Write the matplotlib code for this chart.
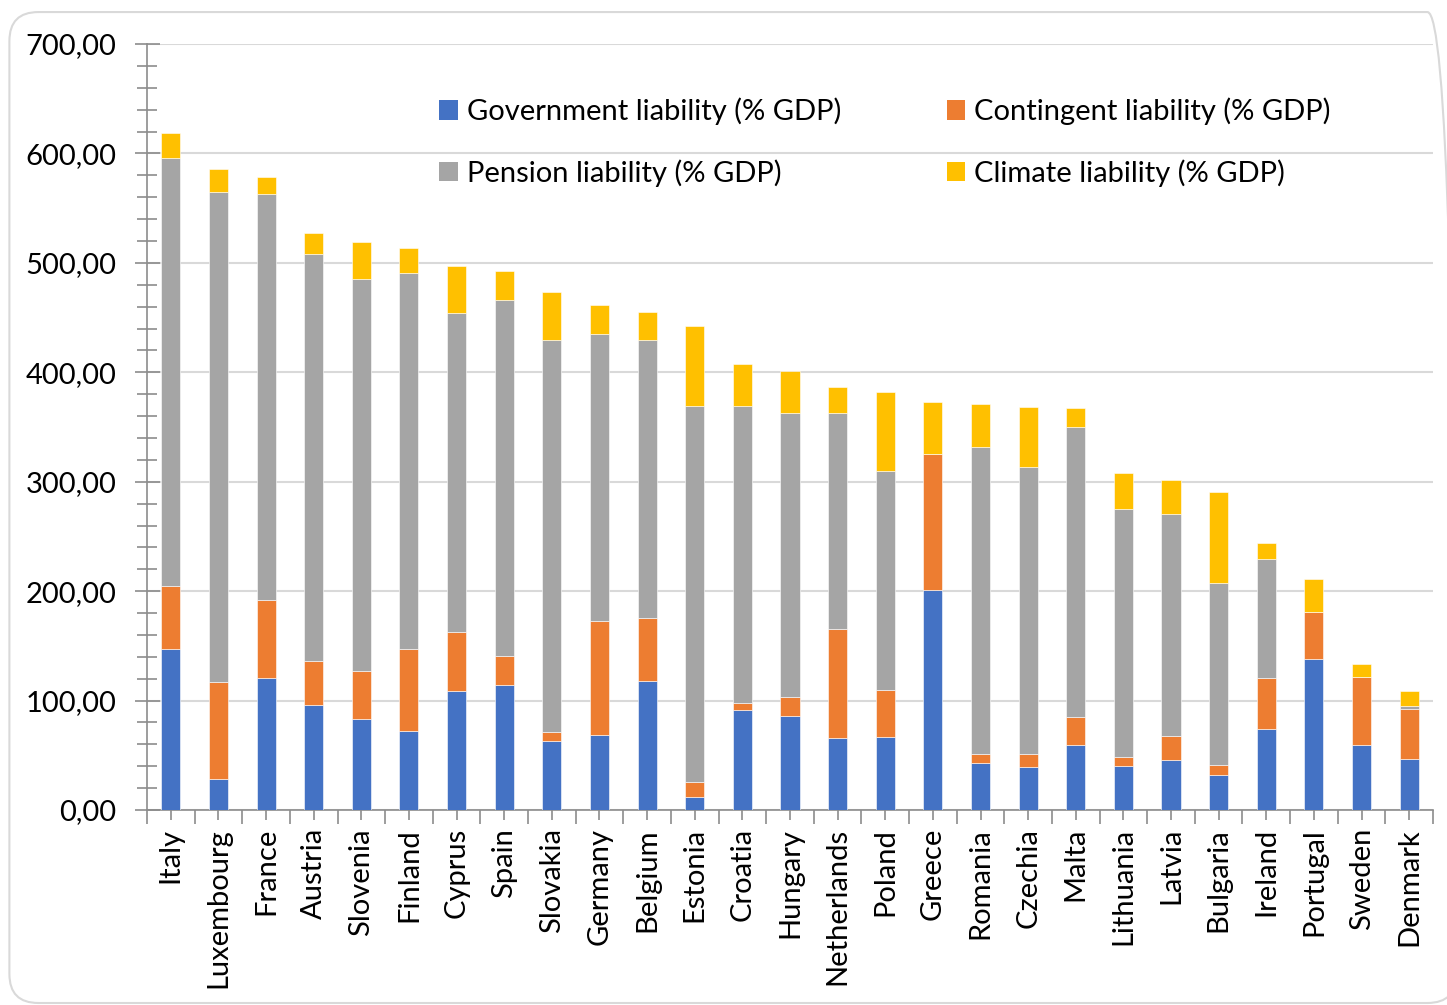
import matplotlib.pyplot as plt
import numpy as np
from matplotlib.patches import FancyBboxPatch, Patch
from matplotlib.ticker import FuncFormatter, MultipleLocator

plt.rcParams["font.family"] = ["Lato", "DejaVu Sans"]

countries = ["Italy", "Luxembourg", "France", "Austria", "Slovenia", "Finland", "Cyprus",
             "Spain", "Slovakia", "Germany", "Belgium", "Estonia", "Croatia", "Hungary",
             "Netherlands", "Poland", "Greece", "Romania", "Czechia", "Malta", "Lithuania",
             "Latvia", "Bulgaria", "Ireland", "Portugal", "Sweden", "Denmark"]

government = [147.6, 28.5, 120.7, 96.2, 83.2, 72.2, 108.8, 114.1, 63.2, 68.5, 118.0, 12.0,
              91.4, 85.9, 65.5, 66.4, 200.7, 42.9, 39.6, 59.4, 40.5, 46.0, 31.7, 74.3,
              137.6, 59.4, 46.9]
contingent = [57.0, 88.1, 71.3, 40.0, 44.0, 75.4, 53.5, 27.0, 8.1, 103.9, 57.7, 13.9,
              6.8, 17.6, 100.0, 42.9, 124.5, 8.4, 11.8, 25.5, 8.2, 21.3, 9.4, 45.9,
              43.5, 62.1, 45.0]
pension = [391.0, 448.0, 370.6, 371.7, 357.9, 342.8, 291.8, 325.3, 358.0, 263.0, 254.2,
           343.5, 271.2, 259.1, 197.4, 200.1, 0.0, 280.4, 262.1, 265.2, 226.2, 203.3,
           166.5, 109.6, 0.0, 0.0, 2.8]
climate = [23.2, 20.8, 16.3, 19.6, 34.3, 23.2, 42.8, 26.1, 44.4, 26.5, 25.6, 73.2, 38.3,
           38.9, 24.1, 72.9, 47.3, 39.5, 54.5, 17.0, 33.5, 31.1, 82.8, 14.0, 30.2, 11.5, 14.0]

series = [
    ("Government liability (% GDP)", government, "#4472C4"),
    ("Contingent liability (% GDP)", contingent, "#ED7D31"),
    ("Pension liability (% GDP)", pension, "#A5A5A5"),
    ("Climate liability (% GDP)", climate, "#FFC000"),
]

fig = plt.figure(figsize=(14.47, 10.05), dpi=100)
ax = fig.add_axes([0.1016, 0.194, 0.8887, 0.7622])

# rounded frame around the whole chart (runs off the right edge)
frame = FancyBboxPatch((0.0065, 0.002), 1.0, 0.986, boxstyle="round,pad=0,rounding_size=0.02",
                       transform=fig.transFigure, facecolor="none", edgecolor="#D9D9D9",
                       linewidth=1.5, mutation_aspect=1.44)
fig.patches.append(frame)

x = np.arange(len(countries))
bottom = np.zeros(len(countries))
for name, vals, color in series:
    vals = np.array(vals)
    ax.bar(x, vals, width=0.4, bottom=bottom, color=color, edgecolor="#FFFFFF",
           linewidth=0.4, label=name, zorder=3)
    bottom += vals

ax.set_xlim(-0.5, len(countries) - 0.5)
ax.set_ylim(0, 700)
ax.yaxis.set_major_locator(MultipleLocator(100))
ax.yaxis.set_minor_locator(MultipleLocator(20))
ax.yaxis.set_major_formatter(FuncFormatter(lambda v, p: f"{v:.2f}".replace(".", ",")))
ax.grid(axis="y", which="major", color="#D9D9D9", linewidth=1.5, zorder=0)

ax.set_xticks(x)
ax.set_xticklabels(countries, rotation=90, fontsize=21)
ax.set_xticks(np.arange(len(countries) + 1) - 0.5, minor=True)
ax.tick_params(axis="x", which="major", direction="inout", length=14, width=1.2,
               color="#8C8C8C", pad=6)
ax.tick_params(axis="x", which="minor", direction="out", length=10, width=1.2, color="#8C8C8C")
ax.tick_params(axis="y", which="major", direction="inout", length=18, width=1.2,
               color="#8C8C8C", labelsize=21, pad=13)
ax.tick_params(axis="y", which="minor", direction="inout", length=14, width=1.2, color="#8C8C8C")

for side in ["top", "right"]:
    ax.spines[side].set_visible(False)
for side in ["left", "bottom"]:
    ax.spines[side].set_color("#8C8C8C")
    ax.spines[side].set_linewidth(1.2)

handles = [Patch(facecolor=c, label=n) for n, _, c in series]
order = [0, 2, 1, 3]
ax.legend([handles[i] for i in order], [series[i][0] for i in order], ncol=2,
          loc="upper left", bbox_to_anchor=(0.207, 0.964), frameon=False, fontsize=21,
          handlelength=0.65, handleheight=0.65, handletextpad=0.3, columnspacing=3.6,
          labelspacing=1.15)

fig.savefig("out.png", dpi=100)
